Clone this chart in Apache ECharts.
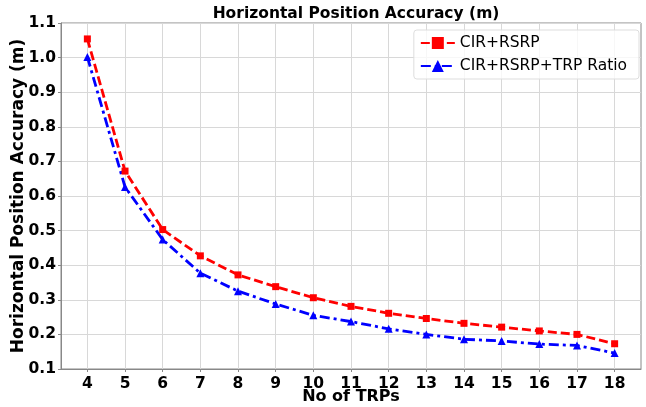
<!DOCTYPE html>
<html>
<head>
<meta charset="utf-8">
<script src="https://cdn.jsdelivr.net/npm/echarts@6/dist/echarts.min.js"></script>
<style>
	html, body { margin: 0; padding: 0; background: #fff; }
	#main { width: 646px; height: 407px; }
</style>
</head>
<body>
<div id="main"></div>
<script>
	// No of TRPs
	var trps = [4, 5, 6, 7, 8, 9, 10, 11, 12, 13, 14, 15, 16, 17, 18];
	var cir_rsrp = [1.054, 0.672, 0.503, 0.427, 0.372, 0.338, 0.306, 0.281, 0.261, 0.246, 0.232, 0.221, 0.210, 0.200, 0.173];
	var cir_rsrp_ratio = [1.002, 0.626, 0.474, 0.377, 0.325, 0.288, 0.255, 0.237, 0.216, 0.200, 0.186, 0.181, 0.172, 0.168, 0.146];

	function pairs(xs, ys) {
		let out = [];
		for (let i in xs) {
			out.push([xs[i], ys[i]]);
		}
		return out;
	}

	var font = 'DejaVu Sans';
	var myChart = echarts.init(document.getElementById('main'));
	var option = {
		animation: false,
		title: {
			text: 'Horizontal Position Accuracy (m)',
			left: 351,
			textAlign: 'center',
			top: 1,
			textStyle: { fontFamily: font, fontSize: 15.5, fontWeight: 'bold', color: '#000' }
		},
		legend: {
			right: 7,
			top: 30,
			orient: 'vertical',
			itemWidth: 34,
			itemHeight: 15,
			itemGap: 7,
			padding: [5, 12, 5, 6],
			borderColor: '#ddd',
			borderWidth: 1,
			borderRadius: 3,
			backgroundColor: 'rgba(255,255,255,0.8)',
			textStyle: { fontFamily: font, fontSize: 15.5, color: '#000' },
			data: ['CIR+RSRP', 'CIR+RSRP+TRP Ratio']
		},
		grid: {
			left: 61,
			right: 5,
			top: 23,
			bottom: 38,
			outerBoundsMode: 'none',
			show: true,
			borderColor: '#888',
			borderWidth: 1
		},
		xAxis: {
			type: 'value',
			min: 3.3,
			max: 18.7,
			name: 'No of TRPs',
			nameLocation: 'middle',
			nameGap: 20,
			nameMoveOverlap: false,
			nameTextStyle: { fontFamily: font, fontSize: 16, fontWeight: 'bold', color: '#000' },
			axisLine: { lineStyle: { color: '#888' } },
			axisTick: { show: true, length: 3, customValues: trps, lineStyle: { color: '#888' } },
			axisLabel: {
				fontFamily: font, fontSize: 15.5, fontWeight: 'bold', color: '#000', margin: 7,
				customValues: trps
			},
			splitLine: { show: true, lineStyle: { color: '#d8d8d8' } }
		},
		yAxis: {
			type: 'value',
			min: 0.1,
			max: 1.1,
			interval: 0.1,
			name: 'Horizontal Position Accuracy (m)',
			nameLocation: 'middle',
			nameGap: 34,
			nameMoveOverlap: false,
			nameTextStyle: { fontFamily: font, fontSize: 17, fontWeight: 'bold', color: '#000' },
			axisLine: { show: true, lineStyle: { color: '#888' } },
			axisTick: { show: true, length: 3, lineStyle: { color: '#888' } },
			axisLabel: {
				fontFamily: font, fontSize: 15.5, fontWeight: 'bold', color: '#000', margin: 5,
				formatter: function (v) { return v.toFixed(1); }
			},
			splitLine: { show: true, lineStyle: { color: '#d8d8d8' } }
		},
		series: [{
				name: 'CIR+RSRP',
				type: 'line',
				data: pairs(trps, cir_rsrp),
				symbol: 'rect',
				symbolSize: 7,
				itemStyle: { color: '#ff0000' },
				lineStyle: { color: '#ff0000', width: 2.8, type: [9, 4] }
			},
			{
				name: 'CIR+RSRP+TRP Ratio',
				type: 'line',
				data: pairs(trps, cir_rsrp_ratio),
				symbol: 'triangle',
				symbolSize: 8,
				itemStyle: { color: '#0000ff' },
				lineStyle: { color: '#0000ff', width: 2.8, type: [10, 4, 3, 4] }
			}
		]
	};
	option && myChart.setOption(option);
</script>
</body>
</html>
